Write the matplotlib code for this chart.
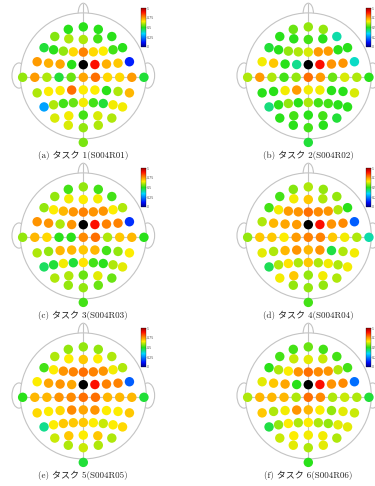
import numpy as np
import matplotlib
matplotlib.use("Agg")
import matplotlib.pyplot as plt
from matplotlib.patches import Ellipse
from matplotlib.colors import Normalize, LinearSegmentedColormap
from matplotlib.colorbar import ColorbarBase

# ================= DATA =================
# electrode rows, front to back, left to right
ROWS = [
    ["Fp1", "Fpz", "Fp2"],
    ["AF7", "AF3", "AFz", "AF4", "AF8"],
    ["F7", "F5", "F3", "F1", "Fz", "F2", "F4", "F6", "F8"],
    ["FT7", "FC5", "FC3", "FC1", "FCz", "FC2", "FC4", "FC6", "FT8"],
    ["T9", "T7", "C5", "C3", "C1", "Cz", "C2", "C4", "C6", "T8", "T10"],
    ["TP7", "CP5", "CP3", "CP1", "CPz", "CP2", "CP4", "CP6", "TP8"],
    ["P7", "P5", "P3", "P1", "Pz", "P2", "P4", "P6", "P8"],
    ["PO7", "PO3", "POz", "PO4", "PO8"],
    ["O1", "Oz", "O2"],
    ["Iz"],
]

nan = np.nan  # seed electrode, drawn black

task1 = [
    [0.50, 0.50, 0.50],
    [0.57, 0.60, 0.60, 0.52, 0.50],
    [0.48, 0.50, 0.58, 0.68, 0.78, 0.68, 0.66, 0.52, 0.50],
    [0.75, 0.73, 0.74, 0.50, nan, 0.90, 0.73, 0.70, 0.13],
    [0.58, 0.75, 0.60, 0.48, 0.55, 0.74, 0.80, 0.68, 0.68, 0.75, 0.48],
    [0.60, 0.66, 0.66, 0.80, 0.66, 0.66, 0.50, 0.60, 0.72],
    [0.28, 0.60, 0.52, 0.55, 0.65, 0.52, 0.48, 0.65, 0.65],
    [0.63, 0.65, 0.52, 0.63, 0.60],
    [0.63, 0.58, 0.60],
    [0.56],
]
task2 = [
    [0.55, 0.58, 0.58],
    [0.50, 0.50, 0.52, 0.50, 0.40],
    [0.48, 0.50, 0.58, 0.60, 0.63, 0.75, 0.75, 0.50, 0.50],
    [0.65, 0.70, 0.50, 0.42, nan, 0.90, 0.76, 0.76, 0.38],
    [0.60, 0.75, 0.60, 0.52, 0.58, 0.80, 0.75, 0.55, 0.63, 0.60, 0.50],
    [0.50, 0.50, 0.65, 0.75, 0.65, 0.65, 0.50, 0.50, 0.63],
    [0.43, 0.50, 0.58, 0.50, 0.60, 0.52, 0.52, 0.50, 0.50],
    [0.50, 0.52, 0.50, 0.52, 0.48],
    [0.50, 0.52, 0.50],
    [0.48],
]
task3 = [
    [0.52, 0.58, 0.52],
    [0.58, 0.65, 0.66, 0.65, 0.52],
    [0.58, 0.66, 0.72, 0.76, 0.78, 0.76, 0.76, 0.66, 0.60],
    [0.76, 0.76, 0.60, 0.76, nan, 0.90, 0.78, 0.78, 0.15],
    [0.58, 0.72, 0.68, 0.50, 0.50, 0.77, 0.80, 0.60, 0.70, 0.72, 0.50],
    [0.60, 0.58, 0.72, 0.72, 0.70, 0.72, 0.52, 0.58, 0.66],
    [0.45, 0.48, 0.65, 0.48, 0.67, 0.52, 0.50, 0.60, 0.64],
    [0.60, 0.60, 0.55, 0.64, 0.55],
    [0.58, 0.58, 0.55],
    [0.52],
]
task4 = [
    [0.57, 0.60, 0.58],
    [0.52, 0.65, 0.70, 0.60, 0.58],
    [0.52, 0.65, 0.75, 0.76, 0.80, 0.77, 0.76, 0.60, 0.50],
    [0.60, 0.72, 0.74, 0.75, nan, 0.90, 0.76, 0.77, 0.20],
    [0.58, 0.70, 0.70, 0.66, 0.75, 0.78, 0.78, 0.70, 0.65, 0.60, 0.40],
    [0.64, 0.60, 0.72, 0.76, 0.72, 0.76, 0.47, 0.60, 0.65],
    [0.46, 0.60, 0.67, 0.60, 0.70, 0.60, 0.65, 0.60, 0.65],
    [0.65, 0.70, 0.58, 0.65, 0.60],
    [0.58, 0.58, 0.58],
    [0.52],
]
task5 = [
    [0.58, 0.58, 0.58],
    [0.60, 0.66, 0.70, 0.66, 0.60],
    [0.52, 0.66, 0.76, 0.78, 0.80, 0.78, 0.76, 0.65, 0.60],
    [0.66, 0.74, 0.76, 0.74, nan, 0.90, 0.78, 0.78, 0.20],
    [0.50, 0.72, 0.72, 0.76, 0.77, 0.80, 0.80, 0.72, 0.72, 0.72, 0.48],
    [0.68, 0.66, 0.68, 0.77, 0.74, 0.76, 0.66, 0.66, 0.70],
    [0.42, 0.66, 0.70, 0.70, 0.70, 0.66, 0.62, 0.66, 0.68],
    [0.62, 0.70, 0.66, 0.70, 0.60],
    [0.60, 0.62, 0.60],
    [0.48],
]
task6 = [
    [0.52, 0.55, 0.52],
    [0.52, 0.62, 0.64, 0.62, 0.52],
    [0.50, 0.60, 0.66, 0.76, 0.80, 0.77, 0.76, 0.60, 0.52],
    [0.64, 0.70, 0.74, 0.50, nan, 0.90, 0.76, 0.77, 0.22],
    [0.60, 0.72, 0.72, 0.72, 0.60, 0.80, 0.77, 0.60, 0.62, 0.60, 0.48],
    [0.70, 0.60, 0.65, 0.76, 0.72, 0.66, 0.58, 0.64, 0.62],
    [0.47, 0.58, 0.66, 0.60, 0.66, 0.60, 0.58, 0.64, 0.64],
    [0.62, 0.66, 0.65, 0.65, 0.60],
    [0.64, 0.60, 0.64],
    [0.50],
]

tasks = [task1, task2, task3, task4, task5, task6]
captions = ["(a) タスク 1(S004R01)", "(b) タスク 2(S004R02)",
            "(c) タスク 3(S004R03)", "(d) タスク 4(S004R04)",
            "(e) タスク 5(S004R05)", "(f) タスク 6(S004R06)"]
cbar_ticks = [0, 0.25, 0.5, 0.75, 1]
cbar_labels = ["0", "0.25", "0.5", "0.75", "1"]

# ================= ELECTRODE POSITIONS (10-10 on a sphere) =================
STEP = 18.0  # degrees per unit on the flat map

def sph(theta, phi):
    t, p = np.radians(theta), np.radians(phi)
    return np.array([np.sin(t) * np.sin(p), np.sin(t) * np.cos(p), np.cos(t)])

def arc(theta_end, phi_end, theta_mid, phi_mid, n):
    A = sph(theta_end, -phi_end)
    M = sph(theta_mid, phi_mid)
    B = sph(theta_end, phi_end)
    a, b = A - M, B - M
    axb = np.cross(a, b)
    c = M + np.cross(np.dot(a, a) * b - np.dot(b, b) * a, axb) / (2 * np.dot(axb, axb))
    v, u = M - c, A - c
    rad = np.linalg.norm(v)
    w = u - np.dot(u, v) / rad**2 * v
    w = w / np.linalg.norm(w) * rad
    ang = np.arccos(np.clip(np.dot(u, v) / rad**2, -1, 1))
    return [c + np.cos(-k / n * ang) * v + np.sin(-k / n * ang) * w for k in range(-n, n + 1)]

def flat(p):
    r = np.degrees(np.arccos(np.clip(p[2], -1, 1))) / STEP
    rho = np.hypot(p[0], p[1])
    if rho < 1e-9:
        return 0.0, 0.0
    return r * p[0] / rho, r * p[1] / rho

rows3d = [
    arc(72, 18, 72, 0, 1),
    arc(72, 36, 54, 0, 2),
    arc(72, 54, 36, 0, 4),
    arc(72, 72, 18, 0, 4),
    [sph(90, -90)] + arc(72, 90, 0, 0, 4) + [sph(90, 90)],
    arc(72, 108, 18, 180, 4),
    arc(72, 126, 36, 180, 4),
    arc(72, 144, 54, 180, 2),
    arc(72, 162, 72, 180, 1),
    [sph(93, 180)],
]
xy = np.array([flat(p) for row in rows3d for p in row])
ex, ey = xy[:, 0], xy[:, 1]

# ================= FIGURE =================
W, H = 375, 486
fig = plt.figure(figsize=(W / 100, H / 100), dpi=100)

# jet-like map with a saturated green middle
cmap = LinearSegmentedColormap.from_list("eeg", [
    (0.00, (0.0, 0.0, 0.55)),
    (0.11, (0.0, 0.05, 1.0)),
    (0.34, (0.0, 0.85, 1.0)),
    (0.50, (0.15, 0.88, 0.10)),
    (0.66, (1.0, 0.93, 0.0)),
    (0.77, (1.0, 0.55, 0.0)),
    (0.90, (1.0, 0.05, 0.0)),
    (1.00, (0.65, 0.0, 0.0)),
])
cmap.set_bad("black")

centers = [(83.3, 77.3), (308.3, 77.3), (83.3, 237.3),
           (308.3, 237.3), (83.3, 397.3), (308.3, 397.3)]
sx, sy = 12.13, 12.6   # px per unit
half = 76
gray = "#c4c4c4"

for (cx, cy), vals, cap in zip(centers, tasks, captions):
    ax = fig.add_axes([(cx - half) / W, 1 - (cy + half) / H, 2 * half / W, 2 * half / H])
    ax.set_xlim(-half / sx, half / sx)
    ax.set_ylim(-half / sy, half / sy)
    ax.axis("off")

    hr_x, hr_y, hc = 63 / sx, 63 / sy, 0.11
    for side in (-1, 1):
        ax.add_patch(Ellipse((side * 5.3, 0.14), 1.16, 2.0, fc="white", ec=gray, lw=0.8, zorder=1))
    ax.add_patch(Ellipse((0, hc + hr_y - 0.05), 0.85, 1.64, fc="white", ec=gray, lw=0.8, zorder=1))
    ax.add_patch(Ellipse((0, hc), 2 * hr_x, 2 * hr_y, fc="white", ec=gray, lw=0.8, zorder=2))

    ax.plot([ex.min(), ex.max()], [0, 0], color=gray, lw=0.8, zorder=3)
    ax.plot([0, 0], [hc + hr_y + 0.72, ey.min()], color=gray, lw=0.8, zorder=3)

    v = np.array([x for row in vals for x in row], dtype=float)
    ax.scatter(ex, ey, c=v, cmap=cmap, vmin=0, vmax=1, s=46, linewidths=0,
               plotnonfinite=True, zorder=4)

    cax = fig.add_axes([(cx + 57.7) / W, 1 - (cy - 30.6) / H, 4.5 / W, 38.4 / H])
    cb = ColorbarBase(cax, cmap=cmap, norm=Normalize(0, 1))
    cb.set_ticks(cbar_ticks)
    cb.set_ticklabels(cbar_labels)
    cb.outline.set_linewidth(0.2)
    cax.tick_params(labelsize=2.3, length=0.6, width=0.2, pad=0.6, colors="#555555")

    fig.text(cx / W, 1 - (cy + 77.7) / H, cap, ha="center", va="center",
             fontsize=6.5, family=["cmr10", "Noto Sans CJK JP"], color="#222222")

fig.savefig("out.png", dpi=100)
